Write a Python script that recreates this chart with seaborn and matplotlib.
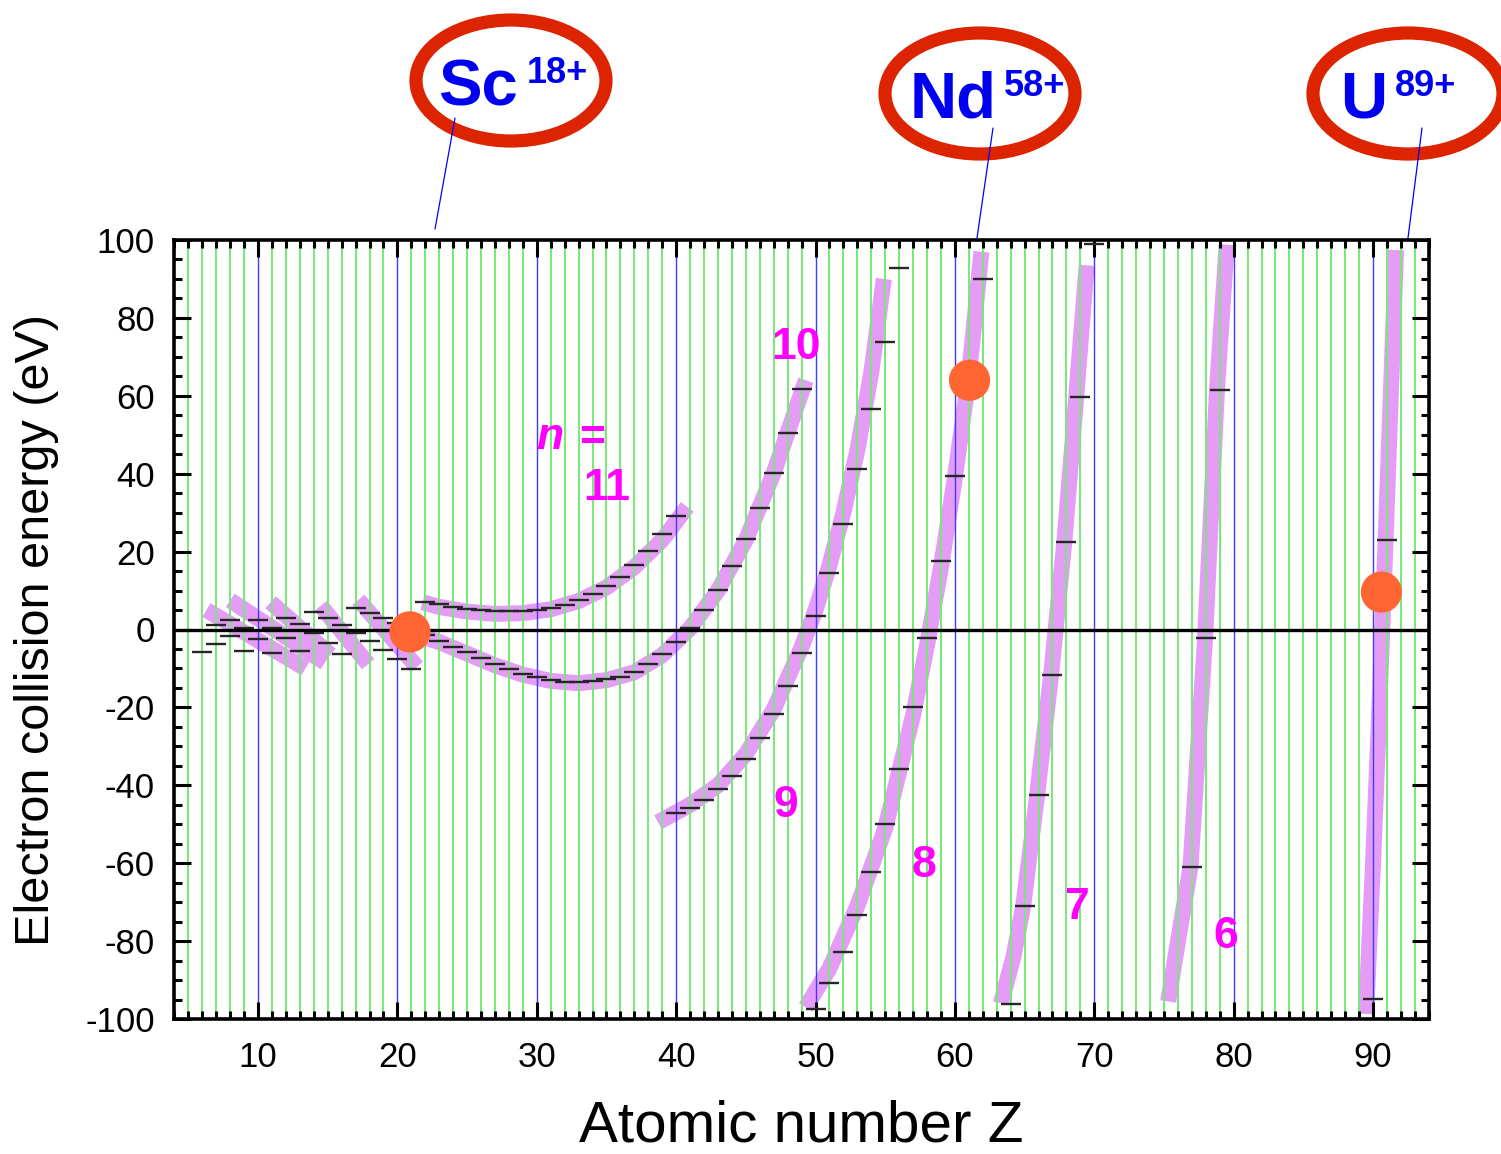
"""
Dielectronic recombination resonance map: electron collision energy vs Z.
"""

import matplotlib
matplotlib.use("Agg")
import matplotlib.pyplot as plt
from matplotlib.patches import Ellipse
from matplotlib.lines import Line2D
from matplotlib.ticker import MultipleLocator
import pandas as pd
import seaborn as sns

# ── resonance positions (short black dashes), one list per n ──
dash_n5_z = [90, 91]
dash_n5_e = [-94.9, 23.1]
dash_n6_z = [77, 78, 79]
dash_n6_e = [-61.1, -2.2, 61.5]
dash_n7_z = [64, 65, 66, 67, 68, 69, 70]
dash_n7_e = [-96.2, -70.9, -42.5, -11.7, 22.4, 59.6, 99.0]
dash_n8_z = [50, 51, 52, 53, 54, 55, 56, 57, 58, 59, 60, 61, 62]
dash_n8_e = [-97.4, -90.7, -82.7, -73.2, -62.3, -49.9, -35.9, -19.9, -2.2, 17.7, 39.5, 63.0, 89.9]
dash_n9_z = [40, 41, 42, 43, 44, 45, 46, 47, 48, 49, 50, 51, 52, 53, 54, 55, 56]
dash_n9_e = [-47.2, -45.7, -43.8, -41.0, -37.5, -33.2, -27.9, -21.7, -14.4, -6.1,
             3.5, 14.5, 27.0, 41.2, 56.6, 73.8, 92.8]
dash_n10_z = [22, 23, 24, 25, 26, 27, 28, 29, 30, 31, 32, 33, 34, 35,
              36, 37, 38, 39, 40, 41, 42, 43, 44, 45, 46, 47, 48, 49]
dash_n10_e = [-1.5, -2.95, -4.4, -5.9, -7.4, -8.9, -10.1, -11.3, -12.1, -13.0, -13.4, -13.6, -13.2, -12.8,
              -12.1, -10.8, -8.9, -6.4, -3.3, 0.3, 5.0, 10.1, 16.3, 23.2, 31.3, 40.3, 50.4, 61.7]
dash_n11_z = [22, 23, 24, 25, 26, 27, 28, 29, 30, 31, 32, 33, 34, 35, 36, 37, 38, 39, 40]
dash_n11_e = [7.1, 6.5, 5.9, 5.3, 5.0, 4.75, 4.75, 4.75, 5.0, 5.6, 6.3, 7.6, 9.1, 11.2,
              13.6, 16.6, 20.2, 24.4, 29.1]
dash_low_z = [6, 7, 7, 8, 8, 9, 9, 10, 10, 11, 11, 12, 12, 13, 13, 14, 14, 15, 15,
              16, 16, 17, 17, 18, 18, 19, 19, 20, 20, 21]
dash_low_e = [-5.7, -3.6, 1.2, 2.4, -1.7, -5.6, 0.3, 2.4, -2.4, -6.1, 0.3, 3.0, -2.1, 1.3, -5.4,
              4.4, -0.8, 2.9, -3.5, 1.2, -6.4, 5.6, -0.8, 4.3, -2.9, 2.9, -5.3, 1.6, -7.7, -10.2]

# ── broad resonance bands (centre lines) ──
band_n5_z = [89.5, 90.0, 90.4, 90.66, 90.9, 91.65]
band_n5_e = [-98.7, -60, -25, 0, 23, 97.4]
band_n6_z = [75.3, 76.1, 76.9, 77.95, 78.8, 79.5]
band_n6_e = [-95.5, -78, -61, -2.2, 61.5, 98.8]
band_n7_z = [63.3, 64.2, 64.9, 65.9, 66.9, 67.85, 68.7, 69.45]
band_n7_e = [-96, -84, -71, -42.5, -11.7, 22.4, 59.6, 93.5]
band_n8_z = [49.3, 51, 53, 55, 57, 58, 59, 60, 61, 61.9]
band_n8_e = [-97, -87, -71, -51, -22, -4, 16, 39, 65, 97]
band_n9_z = [38.7, 41, 43, 45, 47, 49, 50, 51, 52, 53, 54, 54.9]
band_n9_e = [-49.5, -45, -40, -32, -20.5, -4.5, 5, 16.5, 30, 46, 66, 90]
band_n10_z = [21, 23, 25, 27, 29, 31, 33, 35, 37, 39, 41, 43, 45, 47, 49.3]
band_n10_e = [-1, -3.2, -6.2, -9.2, -11.6, -13.2, -13.8, -13.0, -11.0, -6.6, 0.3, 10.0, 23.0, 40.2, 64]
band_n11_z = [21.8, 23, 25, 27, 29, 31, 33, 35, 37, 39, 40.8]
band_n11_e = [7.0, 5.8, 4.6, 4.0, 4.2, 5.2, 7.3, 10.8, 16.0, 23.0, 31.5]
lowband_a_z, lowband_a_e = [6.3, 13.4], [5.0, -10.0]
lowband_b_z, lowband_b_e = [8.0, 14.8], [7.5, -8.5]
lowband_c_z, lowband_c_e = [10.9, 15.2], [7.0, -6.5]
lowband_d_z, lowband_d_e = [14.5, 17.9], [6.1, -8.9]
lowband_e_z, lowband_e_e = [17.2, 21.4], [7.6, -9.6]

# ── ions marked with orange dots ──
ion_z = [20.9, 61.05, 90.6]
ion_e = [-0.6, 64.0, 9.6]

n_labels = ["10", "9", "8", "7", "6"]
n_label_z = [48.6, 47.9, 57.8, 68.75, 79.4]
n_label_e = [72.5, -45.3, -60.7, -71.5, -78.7]

ion_names = ["Sc", "Nd", "U"]
ion_charges = ["18+", "58+", "89+"]

PINK = "#E59CF6"
GREEN = "#74EA74"
BLUE = "#3C3CFF"
DASH = "#262626"
ORANGE = "#FF6633"
MAGENTA = "#FF00FF"
RED = "#DC2400"
TXTBLUE = "#0000F0"

sns.set_theme(style="white")
plt.rcParams["font.family"] = ["Liberation Sans", "DejaVu Sans"]
plt.rcParams["axes.unicode_minus"] = False
plt.rcParams["text.color"] = "black"
plt.rcParams["axes.labelcolor"] = "black"
plt.rcParams["xtick.color"] = "black"
plt.rcParams["ytick.color"] = "black"

W, H = 1501, 1154
fig = plt.figure(figsize=(W / 100, H / 100), dpi=100)
ax = fig.add_axes([174.4 / W, 1 - 1019 / H, (1428.8 - 174.4) / W, (1019 - 240) / H])

# bands
bands = {
    "5": (band_n5_z, band_n5_e), "6": (band_n6_z, band_n6_e), "7": (band_n7_z, band_n7_e),
    "8": (band_n8_z, band_n8_e), "9": (band_n9_z, band_n9_e), "10": (band_n10_z, band_n10_e),
    "11": (band_n11_z, band_n11_e),
    "a": (lowband_a_z, lowband_a_e), "b": (lowband_b_z, lowband_b_e), "c": (lowband_c_z, lowband_c_e),
    "d": (lowband_d_z, lowband_d_e), "e": (lowband_e_z, lowband_e_e),
}
band_df = pd.concat([pd.DataFrame({"Z": z, "E": e, "band": k}) for k, (z, e) in bands.items()])
sns.lineplot(data=band_df, x="Z", y="E", units="band", estimator=None, sort=False,
             color=PINK, lw=11.5, solid_capstyle="butt", ax=ax, zorder=1, legend=False)

# dashes
for z, e in [(dash_n5_z, dash_n5_e), (dash_n6_z, dash_n6_e), (dash_n7_z, dash_n7_e),
             (dash_n8_z, dash_n8_e), (dash_n9_z, dash_n9_e), (dash_n10_z, dash_n10_e),
             (dash_n11_z, dash_n11_e), (dash_low_z, dash_low_e)]:
    ax.plot(z, e, ls="none", marker="_", ms=14, mew=1.7, color=DASH, zorder=3)

ax.axhline(0, color="black", lw=2.4, zorder=4)
sns.scatterplot(x=ion_z, y=ion_e, s=880, color=ORANGE, edgecolor="none", ax=ax, zorder=5,
                legend=False, clip_on=False)

# n labels
for lab, z, e in zip(n_labels, n_label_z, n_label_e):
    ax.text(z, e, lab, color=MAGENTA, fontsize=32, fontweight="bold", ha="center", va="center")
ax.text(30.95, 49.2, "n", color=MAGENTA, fontsize=32, fontweight="bold", style="italic",
        ha="center", va="center")
ax.text(33.96, 49.0, "=", color=MAGENTA, fontsize=32, fontweight="bold", ha="center", va="center")
ax.text(35.0, 36.3, "11", color=MAGENTA, fontsize=32, fontweight="bold", ha="center", va="center")

# axes
ax.set_xlim(4, 94)
ax.set_ylim(-100, 100)
ax.xaxis.set_major_locator(MultipleLocator(10))
ax.xaxis.set_minor_locator(MultipleLocator(1))
ax.yaxis.set_major_locator(MultipleLocator(20))
ax.yaxis.set_minor_locator(MultipleLocator(5))
ax.set_axisbelow("line")
ax.grid(axis="x", which="minor", color=GREEN, lw=1.4)
ax.grid(axis="x", which="major", color=BLUE, lw=1.0)
ax.grid(axis="y", visible=False)
for s in ax.spines.values():
    s.set_linewidth(2.6)
    s.set_color("black")
    s.set_zorder(6)
ax.tick_params(which="both", direction="in", top=True, right=True, bottom=True, left=True,
               width=2.2, color="black", labelsize=25)
ax.tick_params(which="major", length=12.5, pad=14)
ax.tick_params(which="minor", length=6)
ax.tick_params(axis="x", which="major", pad=16)
ax.set_xlabel("Atomic number Z", fontsize=42, labelpad=18)
ax.set_ylabel("Electron collision energy (eV)", fontsize=35, labelpad=19)

# ion annotations above the plot
def fp(px, py):
    return px / W, 1 - py / H

ell_cx = [511, 980, 1408]
ell_cy = [80.5, 93.5, 93.5]
name_px = [438, 910, 1340]
name_py = [106, 118, 118]
chg_px = [527, 1004, 1395]
chg_py = [83, 96, 96]
lead = [((455, 118), (435, 229)), ((993, 128), (977, 238)), ((1422, 128), (1408, 238))]
for i in range(3):
    fig.add_artist(Ellipse(fp(ell_cx[i], ell_cy[i]), 190 / W, 121 / H, transform=fig.transFigure,
                           fill=False, ec=RED, lw=9.5))
    fig.text(*fp(name_px[i], name_py[i]), ion_names[i], color=TXTBLUE, fontsize=47,
             fontweight="bold", ha="left", va="baseline")
    fig.text(*fp(chg_px[i], chg_py[i]), ion_charges[i], color=TXTBLUE, fontsize=26,
             fontweight="bold", ha="left", va="baseline")
    (x1, y1), (x2, y2) = lead[i]
    fig.add_artist(Line2D([x1 / W, x2 / W], [1 - y1 / H, 1 - y2 / H], transform=fig.transFigure,
                          color="blue", lw=0.9))

fig.savefig("out.png", dpi=100)
